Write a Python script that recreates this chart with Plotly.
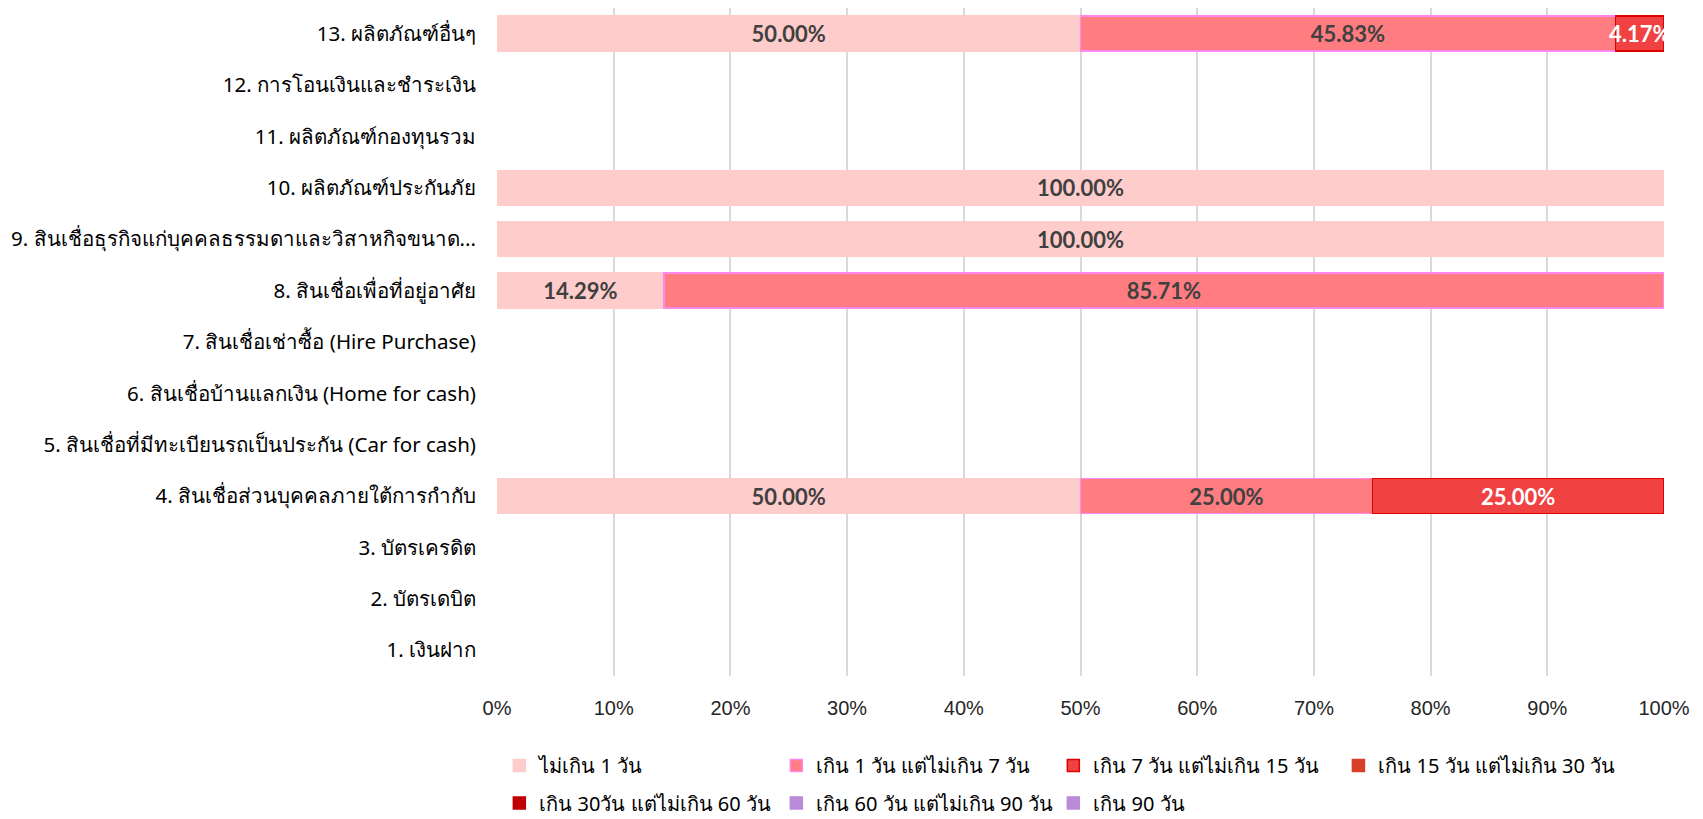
import plotly.graph_objects as go

categories = [
    "1. เงินฝาก",
    "2. บัตรเดบิต",
    "3. บัตรเครดิต",
    "4. สินเชื่อส่วนบุคคลภายใต้การกำกับ",
    "5. สินเชื่อที่มีทะเบียนรถเป็นประกัน (Car for cash)",
    "6. สินเชื่อบ้านแลกเงิน (Home for cash)",
    "7. สินเชื่อเช่าซื้อ (Hire Purchase)",
    "8. สินเชื่อเพื่อที่อยู่อาศัย",
    "9. สินเชื่อธุรกิจแก่บุคคลธรรมดาและวิสาหกิจขนาด...",
    "10. ผลิตภัณฑ์ประกันภัย",
    "11. ผลิตภัณฑ์กองทุนรวม",
    "12. การโอนเงินและชำระเงิน",
    "13. ผลิตภัณฑ์อื่นๆ",
]

series_names = [
    "ไม่เกิน 1 วัน",
    "เกิน 1 วัน แต่ไม่เกิน 7 วัน",
    "เกิน 7 วัน แต่ไม่เกิน 15 วัน",
    "เกิน 15 วัน แต่ไม่เกิน 30 วัน",
    "เกิน 30วัน แต่ไม่เกิน 60 วัน",
    "เกิน 60 วัน แต่ไม่เกิน 90 วัน",
    "เกิน 90 วัน",
]

N = None
s1 = [N, N, N, 50.00, N, N, N, 14.29, 100.00, 100.00, N, N, 50.00]
s2 = [N, N, N, 25.00, N, N, N, 85.71, N, N, N, N, 45.83]
s3 = [N, N, N, 25.00, N, N, N, N, N, N, N, N, 4.17]
s4 = [N] * 13
s5 = [N] * 13
s6 = [N] * 13
s7 = [N] * 13
series_values = [s1, s2, s3, s4, s5, s6, s7]

fills = ["#FFCCCC", "#FF7C80", "#F04242", "#D9402A", "#C00000", "#B98BD9", "#B98BD9"]
borders = ["#FFCCCC", "#FF88F0", "#E00000", "#D9402A", "#C00000", "#B98BD9", "#B98BD9"]
text_colors = ["#404040", "#404040", "#FFFFFF", "#FFFFFF", "#FFFFFF", "#FFFFFF", "#FFFFFF"]
legend_ids = ["legend", "legend", "legend", "legend3", "legend2", "legend2", "legend2"]

thai_font = "Noto Sans, Tahoma, DejaVu Sans, sans-serif"

fig = go.Figure()
for name, vals, fc, bc, tc, lg in zip(series_names, series_values, fills, borders, text_colors, legend_ids):
    fig.add_trace(go.Bar(
        y=categories,
        x=vals,
        name=name,
        orientation="h",
        legend=lg,
        marker=dict(color=fc, line=dict(color=bc, width=1.5)),
        text=[f"{v:.2f}%" if v else "" for v in vals],
        textposition="inside",
        insidetextanchor="middle",
        textfont=dict(family="Lato, Open Sans, sans-serif", size=22, color=tc, weight="bold"),
        hoverinfo="skip",
    ))

legend_common = dict(
    orientation="h",
    xanchor="left",
    yanchor="middle",
    entrywidth=232,
    entrywidthmode="pixels",
    traceorder="normal",
    font=dict(family=thai_font, size=20, color="#000000"),
    itemwidth=30,
    bgcolor="rgba(0,0,0,0)",
)
legend_last = dict(legend_common)
legend_last.pop("entrywidth")
legend_last.pop("entrywidthmode")

# Page has an 8px body margin; figure is sized/offset to fit the 1703x819 window.
fig.update_layout(
    barmode="stack",
    bargap=0.32,
    width=1695,
    height=811,
    margin=dict(l=489, r=39, t=0, b=143, autoexpand=False),
    paper_bgcolor="white",
    plot_bgcolor="white",
    uniformtext=dict(minsize=22, mode="show"),
    font=dict(family=thai_font, size=17, color="#000000"),
    xaxis=dict(
        range=[0, 100],
        dtick=10,
        ticksuffix="%",
        showgrid=True,
        gridcolor="#D9D9D9",
        gridwidth=2,
        zeroline=False,
        showline=False,
        automargin=False,
        tickfont=dict(family="Liberation Sans, Arial, sans-serif", size=20, color="#262626"),
        ticklabelstandoff=18,
        fixedrange=True,
    ),
    yaxis=dict(
        showgrid=False,
        showline=False,
        zeroline=False,
        automargin=False,
        ticks="",
        ticklabelstandoff=20,
        tickfont=dict(family=thai_font, size=20.5, color="#000000"),
        fixedrange=True,
    ),
    legend=dict(legend_common, x=0.002, y=-0.134),
    legend3=dict(legend_last, x=0.721, y=-0.134),
    legend2=dict(legend_common, x=0.002, y=-0.19),
    showlegend=True,
)

fig.write_html("out.html")
